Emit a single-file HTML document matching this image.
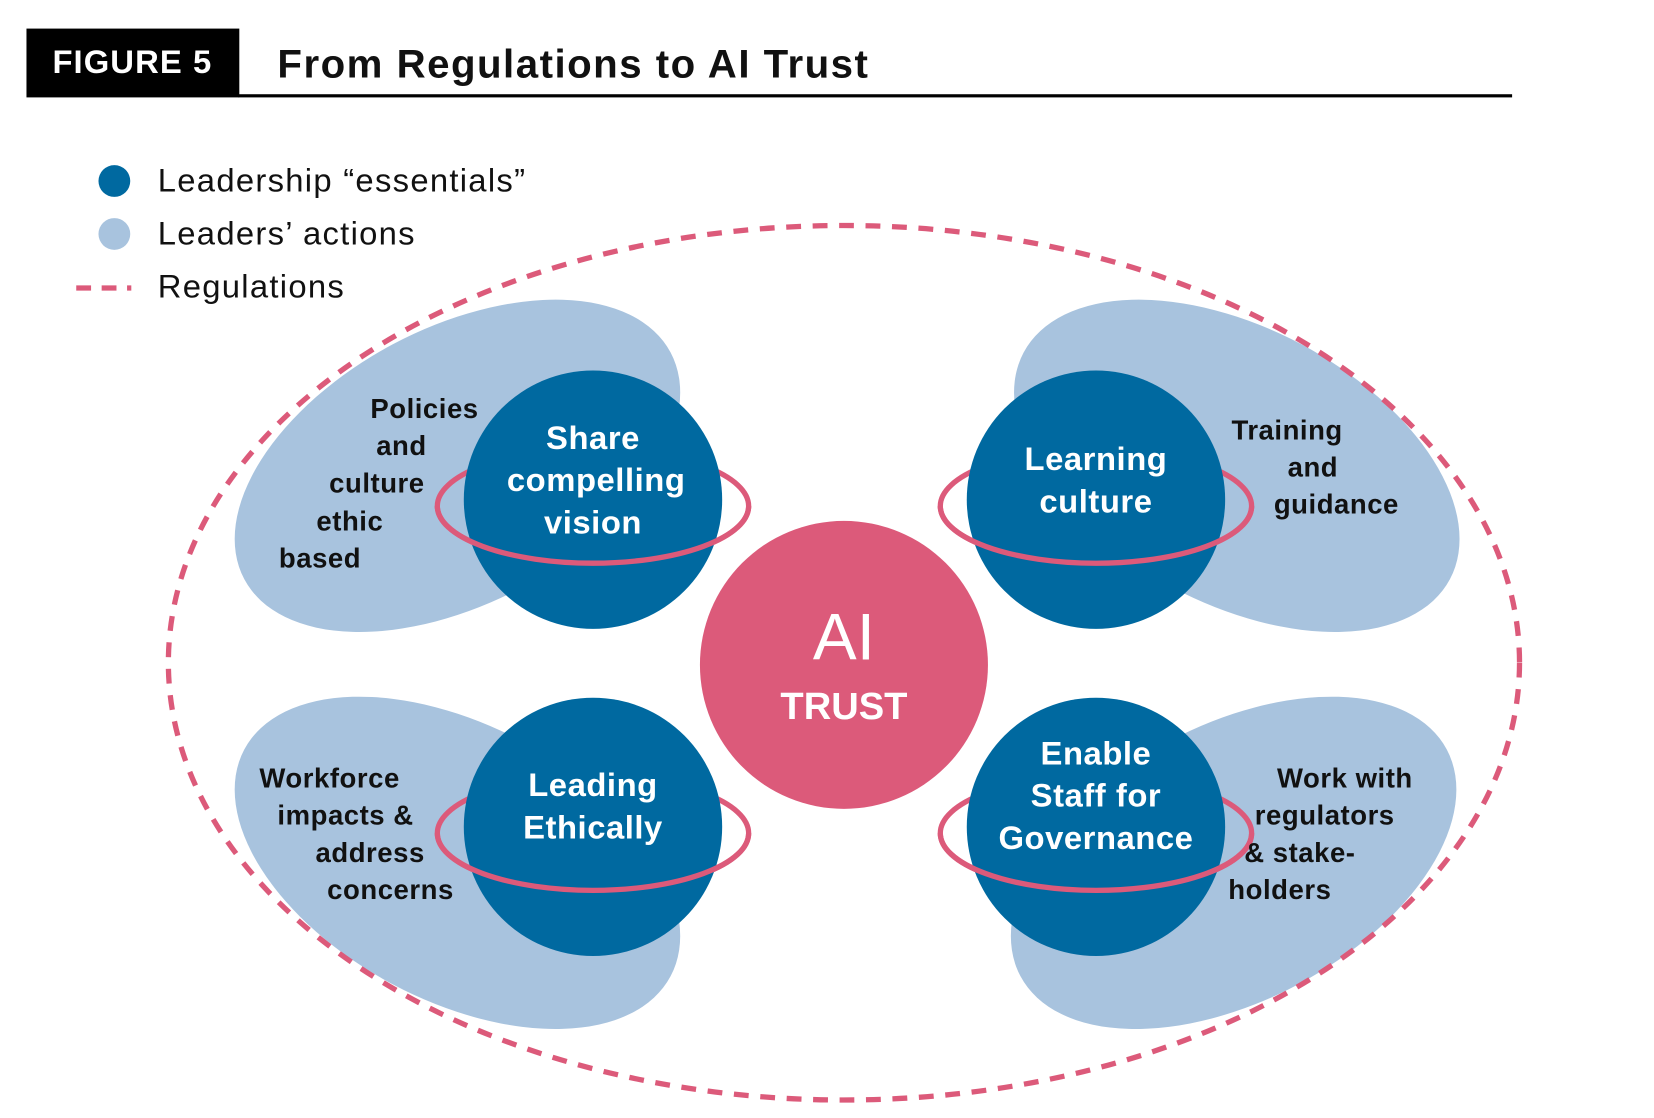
<!DOCTYPE html>
<html><head><meta charset="utf-8"><style>
html,body{margin:0;padding:0;background:#fff;}
svg{display:block;}
text{font-family:"Liberation Sans",Arial,sans-serif;}
</style></head><body>
<svg width="1654" height="1118" viewBox="0 0 1562 1056" preserveAspectRatio="none" xmlns="http://www.w3.org/2000/svg">
<rect x="0" y="0" width="1562" height="1056" fill="#fff"/>
<rect x="25" y="27" width="201" height="65" fill="#000"/>
<text x="125" y="69" fill="#fff" font-size="31" font-weight="bold" text-anchor="middle" letter-spacing="1">FIGURE 5</text>
<text x="262" y="73" fill="#111" font-size="38" font-weight="bold" letter-spacing="1.4">From Regulations to AI Trust</text>
<rect x="225" y="89" width="1203" height="3" fill="#000"/>
<circle cx="108" cy="171" r="15" fill="#0069a0"/>
<circle cx="108" cy="221" r="15" fill="#a8c3de"/>
<line x1="72" y1="272" x2="124" y2="272" stroke="#dc5a7a" stroke-width="5" stroke-dasharray="14 10"/>
<g font-size="31" fill="#111" letter-spacing="1.2">
<text x="149" y="181">Leadership “essentials”</text>
<text x="149" y="231">Leaders’ actions</text>
<text x="149" y="281">Regulations</text>
</g>
<g fill="#a8c3de">
<ellipse cx="0" cy="0" rx="228" ry="130" transform="translate(432,440) rotate(-28)"/>
<ellipse cx="0" cy="0" rx="228" ry="130" transform="translate(1168,440) rotate(28)"/>
<ellipse cx="0" cy="0" rx="228" ry="130" transform="translate(432,815) rotate(28)"/>
<ellipse cx="0" cy="0" rx="228" ry="130" transform="translate(1165,815) rotate(-28)"/>
</g>
<ellipse cx="797" cy="626" rx="638" ry="413" fill="none" stroke="#dc5a7a" stroke-width="5" stroke-dasharray="14 11"/>
<g fill="none" stroke="#dc5a7a" stroke-width="5">
<ellipse cx="560" cy="478" rx="147" ry="54"/>
<ellipse cx="1035" cy="478" rx="147" ry="54"/>
<ellipse cx="560" cy="787" rx="147" ry="54"/>
<ellipse cx="1035" cy="787" rx="147" ry="54"/>
</g>
<g fill="#0069a0">
<circle cx="560" cy="472" r="122"/>
<circle cx="1035" cy="472" r="122"/>
<circle cx="560" cy="781" r="122"/>
<circle cx="1035" cy="781" r="122"/>
</g>
<g fill="none" stroke="#dc5a7a" stroke-width="5">
<path d="M413,478 A147,54 0 0 0 707,478"/>
<path d="M888,478 A147,54 0 0 0 1182,478"/>
<path d="M413,787 A147,54 0 0 0 707,787"/>
<path d="M888,787 A147,54 0 0 0 1182,787"/>
</g>
<circle cx="797" cy="628" r="136" fill="#dc5a7a"/>
<text x="797" y="623" fill="#fff" font-size="62" text-anchor="middle">AI</text>
<text x="797" y="679" fill="#fff" font-size="36" font-weight="bold" text-anchor="middle">TRUST</text>
<g fill="#fff" font-size="31" font-weight="bold" text-anchor="middle" letter-spacing="0.5">
<text x="560" y="424">Share</text><text x="563" y="464">compelling</text><text x="560" y="504">vision</text>
<text x="1035" y="444">Learning</text><text x="1035" y="484">culture</text>
<text x="560" y="752">Leading</text><text x="560" y="792">Ethically</text>
<text x="1035" y="722">Enable</text><text x="1035" y="762">Staff for</text><text x="1035" y="802">Governance</text>
</g>
<g fill="#111" font-size="26" font-weight="bold" letter-spacing="0.5">
<text x="452" y="395" text-anchor="end">Policies</text>
<text x="403" y="430" text-anchor="end">and</text>
<text x="401" y="465" text-anchor="end">culture</text>
<text x="362" y="501" text-anchor="end">ethic</text>
<text x="341" y="536" text-anchor="end">based</text>
<text x="1163" y="415">Training</text>
<text x="1216" y="450">and</text>
<text x="1203" y="485">guidance</text>
<text x="245" y="744">Workforce</text>
<text x="262" y="779">impacts &amp;</text>
<text x="298" y="814">address</text>
<text x="309" y="849">concerns</text>
<text x="1206" y="744">Work with</text>
<text x="1185" y="779">regulators</text>
<text x="1175" y="814">&amp; stake-</text>
<text x="1160" y="849">holders</text>
</g>
</svg>
</body></html>
